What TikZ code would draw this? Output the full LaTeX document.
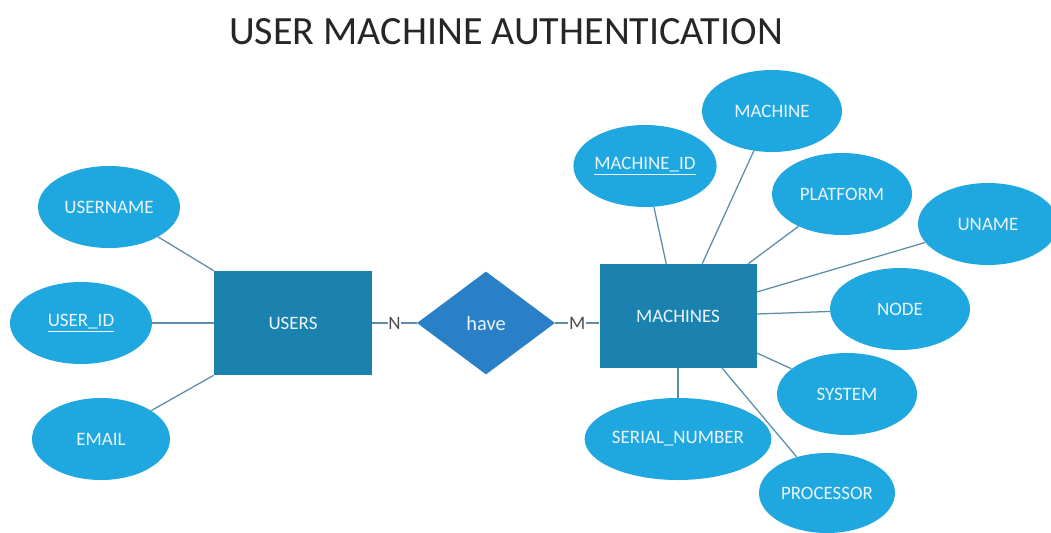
\documentclass[tikz,border=0pt]{standalone}
\usepackage{fontspec}
\setmainfont{Carlito}
\usetikzlibrary{shapes.geometric}
\definecolor{entityblue}{HTML}{1B81AE}
\definecolor{attrblue}{HTML}{1FA7E0}
\definecolor{relblue}{HTML}{2A80C6}
\definecolor{linkgray}{HTML}{5B8DA8}
\definecolor{labelwhite}{HTML}{EAF6FB}

\begin{document}
\begin{tikzpicture}[
    entity/.style={draw=none, fill=entityblue, text=labelwhite, font=\fontsize{13.5}{15}\selectfont,
        minimum width=3.95cm, minimum height=2.6cm, inner sep=0pt},
    attr/.style={ellipse, draw=none, fill=attrblue, text=labelwhite, font=\fontsize{13.5}{15}\selectfont,
        minimum width=3.5cm, minimum height=2.05cm, inner sep=0pt},
    rel/.style={diamond, draw=none, fill=relblue, text=labelwhite, font=\fontsize{14.5}{16}\selectfont,
        minimum width=3.45cm, minimum height=2.575cm, inner sep=0pt},
    link/.style={draw=linkgray, line width=0.9pt},
    card/.style={fill=white, text=black!70, font=\fontsize{13.5}{15}\selectfont, inner sep=0.6pt}
]
\useasboundingbox (0,0) rectangle (26.275,-13.3);

% Title
\node[font=\fontsize{28.5}{32}\selectfont, text=black!85] (title) at (12.65,-0.78) {USER MACHINE AUTHENTICATION};

% Entities and relationship
\node[entity] (users) at (7.325,-8.075) {USERS};
\node[rel] (have) at (12.15,-8.075) {have};
\node[entity, minimum width=3.925cm] (machines) at (16.95,-7.9) {MACHINES};

% User attributes
\node[attr, minimum width=3.55cm] (username) at (2.725,-5.175) {USERNAME};
\node[attr, minimum width=3.55cm] (userid) at (2.025,-8.075) {\underline{USER\_ID}};
\node[attr, minimum width=3.45cm] (email) at (2.525,-10.975) {EMAIL};

% Machine attributes
\node[attr] (machineid) at (16.125,-4.15) {\underline{MACHINE\_ID}};
\node[attr] (machine) at (19.3,-2.775) {MACHINE};
\node[attr] (platform) at (21.05,-4.85) {PLATFORM};
\node[attr] (uname) at (24.7,-5.6) {UNAME};
\node[attr] (nodeattr) at (22.5,-7.725) {NODE};
\node[attr] (system) at (21.175,-9.85) {SYSTEM};
\node[attr, minimum width=3.95cm] (serial) at (16.95,-10.975) {SERIAL\_NUMBER};
\node[attr, minimum width=3.4cm, minimum height=2.0cm] (processor) at (20.675,-12.325) {PROCESSOR};

% Relationship links
\draw[link] (users.east) -- node[card] {N} (have.west);
\draw[link] (have.east) -- node[card] {M} (have.east -| machines.west);

% Attribute links
\draw[link] (username) -- (users.north west);
\draw[link] (userid) -- (users.west);
\draw[link] (email) -- (users.south west);

\draw[link] (machineid) -- ([xshift=1.675cm]machines.north west);
\draw[link] (machine) -- ([xshift=2.575cm]machines.north west);
\draw[link] (platform) -- ([xshift=3.725cm]machines.north west);
\draw[link] (uname) -- ([yshift=0.6cm]machines.east);
\draw[link] (nodeattr) -- ([yshift=0.05cm]machines.east);
\draw[link] (system) -- ([yshift=-0.925cm]machines.east);
\draw[link] (serial) -- (machines.south);
\draw[link] (processor) -- ([xshift=3.075cm]machines.south west);

\end{tikzpicture}
\end{document}
